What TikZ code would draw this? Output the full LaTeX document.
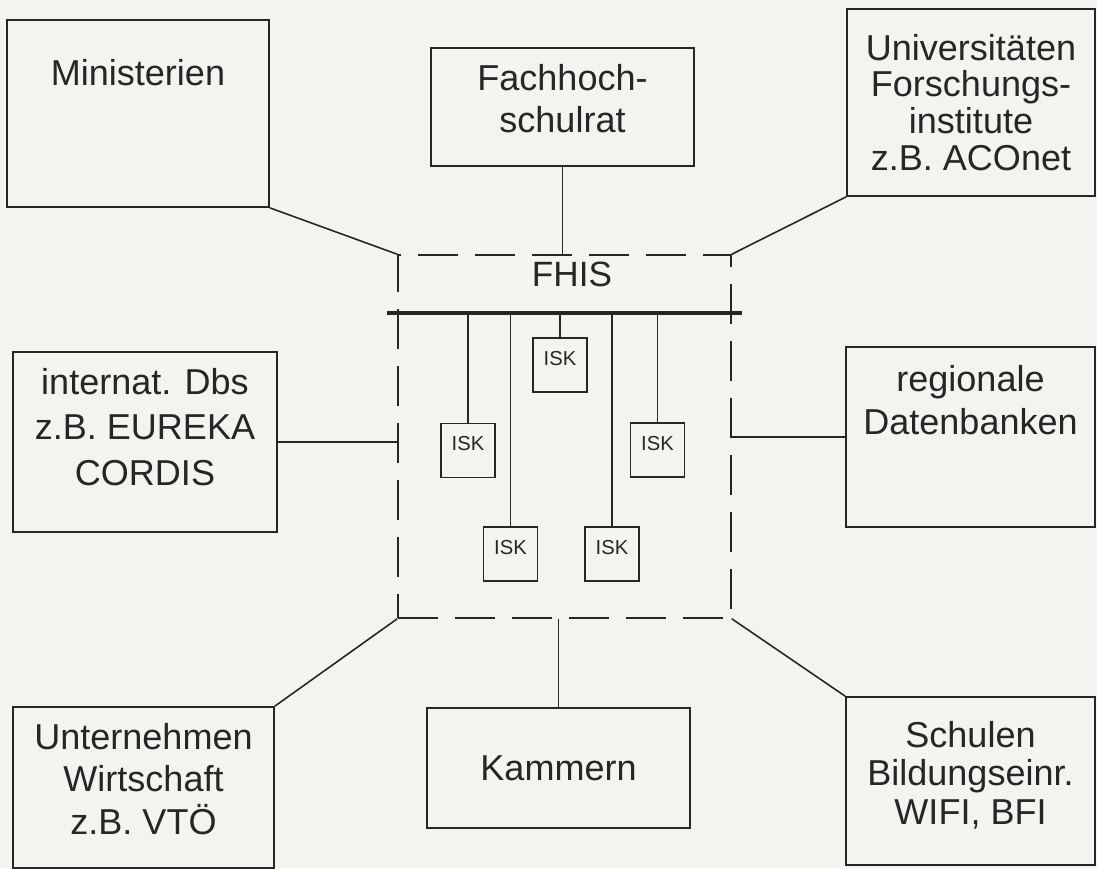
\documentclass[tikz,border=0pt]{standalone}
\usepackage{fontspec}
\setmainfont{Liberation Sans}
\usetikzlibrary{positioning}
\definecolor{ink}{HTML}{262626}
\definecolor{paper}{HTML}{F4F3EF}
\tikzset{
  box/.style={draw=ink, line width=1pt, align=center, font=\fontsize{20.5}{21}\selectfont, text=ink, inner sep=0pt},
  isk/.style={draw=ink, line width=0.9pt, minimum size=1.08cm, font=\fontsize{11.5}{12}\selectfont, text=ink,
    inner sep=0pt, text height=8pt, text depth=8pt},
  conn/.style={draw=ink, line width=0.9pt},
  bus/.style={draw=ink, line width=2.4pt},
  frame/.style={draw=ink, line width=0.9pt, dash pattern=on 0.8cm off 0.34cm},
}
\begin{document}
\begin{tikzpicture}[x=0.02cm, y=-0.02cm]
  \fill[paper] (0,0) rectangle (1097,868);
  \useasboundingbox (0,0) rectangle (1097,868);
  % FHIS frame and its bus
  \node[frame, minimum width=6.66cm, minimum height=7.26cm] (fhis) at (564.5,436.5) {};
  \node[font=\fontsize{20}{21}\selectfont, text=ink] (fhisT) at (572,274) {FHIS};
  \coordinate (busL) at (387,313);
  \coordinate (busR) at (742,313);
  \draw[bus] (busL) -- (busR);
  % ISK stations hanging from the bus
  \foreach \n/\x/\y in {1/560/365, 2/468/450.5, 3/657.5/450, 4/510.5/554, 5/612/554} {
    \node[isk] (isk\n) at (\x,\y) {ISK};
    \draw[conn] (isk\n.north) -- (isk\n.north |- busL);
  }
  % partners round the frame
  \node[box, minimum width=5.24cm, minimum height=3.74cm] (mini) at (138,113.5) {Ministerien\\[0.9cm]\mbox{}};
  \node[box, minimum width=5.26cm, minimum height=2.36cm, font=\fontsize{20.5}{24}\selectfont] (fhr) at (562.5,107)
    {Fachhoch-\\schulrat\\[-0.5cm]\mbox{}};
  \node[box, minimum width=4.96cm, minimum height=3.74cm] (uni) at (971,102.5)
    {Universitäten\\Forschungs-\\institute\\z.B. ACOnet};
  \node[box, minimum width=5.28cm, minimum height=3.6cm, font=\fontsize{20.5}{26}\selectfont] (intl) at (145,442)
    {internat. Dbs\\z.B. EUREKA\\CORDIS\\[-0.3cm]\mbox{}};
  \node[box, minimum width=4.98cm, minimum height=3.6cm, font=\fontsize{20.5}{24.5}\selectfont] (reg) at (970.5,437)
    {regionale\\Datenbanken\\[0.62cm]\mbox{}};
  \node[box, minimum width=5.22cm, minimum height=3.22cm, font=\fontsize{20.5}{24}\selectfont] (unt) at (143.5,787.5)
    {Unternehmen\\Wirtschaft\\z.B. VTÖ\\[-0.5cm]\mbox{}};
  \node[box, minimum width=5.26cm, minimum height=2.4cm] (kam) at (558.5,768) {Kammern};
  \node[box, minimum width=4.98cm, minimum height=3.36cm, font=\fontsize{20.5}{22}\selectfont] (sch) at (970.5,781)
    {Schulen\\Bildungseinr.\\WIFI, BFI\\[-0.45cm]\mbox{}};
  % links to the frame
  \draw[conn] (mini.south east) -- (fhis.north west);
  \draw[conn] (fhr.south) -- (fhr.south |- fhis.north);
  \draw[conn] (uni.south west) -- (fhis.north east);
  \draw[conn] (intl.east) -- (intl.east -| fhis.west);
  \draw[conn] (reg.west) -- (reg.west -| fhis.east);
  \draw[conn] (unt.north east) -- (fhis.south west);
  \draw[conn] (kam.north) -- (kam.north |- fhis.south);
  \draw[conn] (sch.north west) -- (fhis.south east);
\end{tikzpicture}
\end{document}
